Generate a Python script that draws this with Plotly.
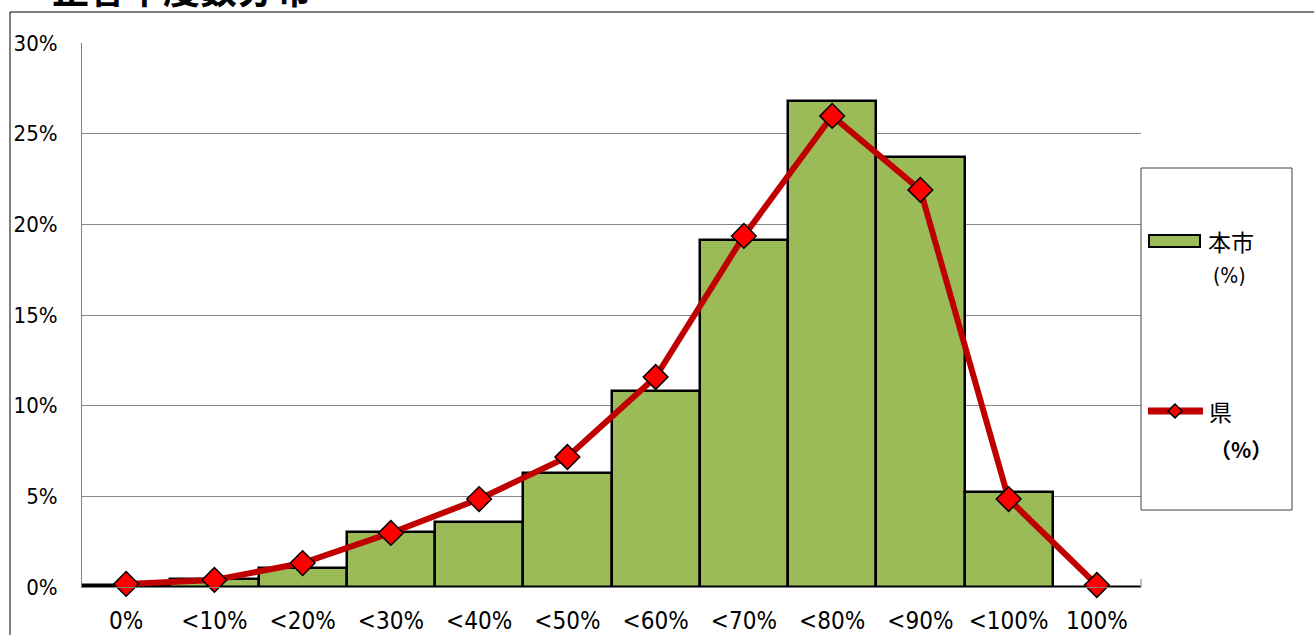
import plotly.graph_objects as go

categories = ["0%", "<10%", "<20%", "<30%", "<40%", "<50%", "<60%", "<70%", "<80%", "<90%", "<100%", "100%"]
city_pct = [0.1, 0.44, 1.05, 3.03, 3.59, 6.29, 10.81, 19.14, 26.8, 23.72, 5.24, 0.0]
pref_pct = [0.17, 0.39, 1.32, 2.98, 4.85, 7.17, 11.58, 19.36, 25.98, 21.9, 4.85, 0.11]
y_ticks = [0, 5, 10, 15, 20, 25, 30]
y_tick_labels = ["0%", "5%", "10%", "15%", "20%", "25%", "30%"]
title_text = "正答率度数分布"
city_name = "本市"
city_unit = "(%)"
pref_name = "県"
pref_unit = "（%）"

W, H = 1314, 635
L, R, T, B = 82, 1141, 43, 587
pw, ph = R - L, B - T

def px(x):
    return (x - L) / pw

def py(y):
    return (B - y) / ph

FONT = "DejaVu Sans Condensed, Liberation Sans Narrow, Noto Sans CJK JP, sans-serif"
CJK = "Noto Sans CJK JP, sans-serif"

fig = go.Figure()
fig.add_trace(go.Bar(
    x=categories, y=city_pct, name=city_name,
    marker=dict(color="#9BBB59", line=dict(color="#000000", width=2.5)),
    width=1.0, showlegend=False,
))
fig.add_trace(go.Scatter(
    x=categories, y=pref_pct, name=pref_name, mode="lines+markers",
    line=dict(color="#C00000", width=6),
    marker=dict(symbol="diamond", size=19, color="#FF0000",
                line=dict(color="#000000", width=1.5)),
    showlegend=False, cliponaxis=False,
))

shapes = []
shapes.append(dict(type="rect", xref="paper", yref="paper",
                   x0=px(10), x1=px(1330), y0=py(12), y1=py(650),
                   line=dict(color="#000000", width=1), fillcolor="rgba(0,0,0,0)", layer="below"))
shapes.append(dict(type="rect", xref="paper", yref="paper",
                   x0=px(1141), x1=px(1292), y0=py(168), y1=py(510),
                   line=dict(color="#404040", width=1), fillcolor="white"))
shapes.append(dict(type="rect", xref="paper", yref="paper",
                   x0=px(1149), x1=px(1200), y0=py(235), y1=py(247),
                   line=dict(color="#000000", width=2), fillcolor="#9BBB59"))
shapes.append(dict(type="line", xref="paper", yref="paper",
                   x0=px(1148), x1=px(1203), y0=py(411), y1=py(411),
                   line=dict(color="#C00000", width=7)))
cx, cy, r = 1175, 411, 7
shapes.append(dict(type="path", xref="paper", yref="paper",
                   path=f"M {px(cx-r)} {py(cy)} L {px(cx)} {py(cy-r)} L {px(cx+r)} {py(cy)} L {px(cx)} {py(cy+r)} Z",
                   line=dict(color="#000000", width=1.5), fillcolor="#FF0000"))
shapes.append(dict(type="line", xref="paper", yref="paper",
                   x0=1, x1=1, y0=0, y1=py(579),
                   line=dict(color="#808080", width=1)))

annotations = [
    dict(text=f"<b>{title_text}</b>", xref="paper", yref="paper", x=px(50), y=py(-12),
         xanchor="left", yanchor="middle", showarrow=False,
         font=dict(family=CJK, size=37, color="#000000")),
    dict(text=city_name, xref="paper", yref="paper", x=px(1206), y=py(241),
         xanchor="left", yanchor="middle", showarrow=False,
         font=dict(family=CJK, size=23, color="#000000")),
    dict(text=city_unit, xref="paper", yref="paper", x=px(1211), y=py(276),
         xanchor="left", yanchor="middle", showarrow=False,
         font=dict(family=FONT, size=21, color="#000000")),
    dict(text=pref_name, xref="paper", yref="paper", x=px(1207), y=py(411),
         xanchor="left", yanchor="middle", showarrow=False,
         font=dict(family=CJK, size=23, color="#000000")),
    dict(text=f"<b>{pref_unit}</b>", xref="paper", yref="paper", x=px(1208), y=py(449),
         xanchor="left", yanchor="middle", showarrow=False,
         font=dict(family=CJK, size=21, color="#000000")),
]

fig.update_layout(
    width=W, height=H,
    margin=dict(l=L, r=W - R, t=T, b=H - B, autoexpand=False),
    paper_bgcolor="white", plot_bgcolor="white",
    bargap=0,
    shapes=shapes, annotations=annotations,
    xaxis=dict(type="category", range=[-0.5, 11.5], showline=True, linecolor="#808080",
               linewidth=1, showgrid=False, ticks="", ticklabelstandoff=12,
               tickangle=0, automargin=False,
               tickfont=dict(family=FONT, size=24, color="#000000")),
    yaxis=dict(range=[0, 30], tickvals=y_ticks, ticktext=y_tick_labels, showline=True,
               linecolor="#808080", linewidth=1, showgrid=True, gridcolor="#868686",
               gridwidth=1, zeroline=False, ticks="", ticklabelstandoff=19,
               automargin=False,
               tickfont=dict(family=FONT, size=22, color="#000000")),
)

fig.write_html("out.html")
